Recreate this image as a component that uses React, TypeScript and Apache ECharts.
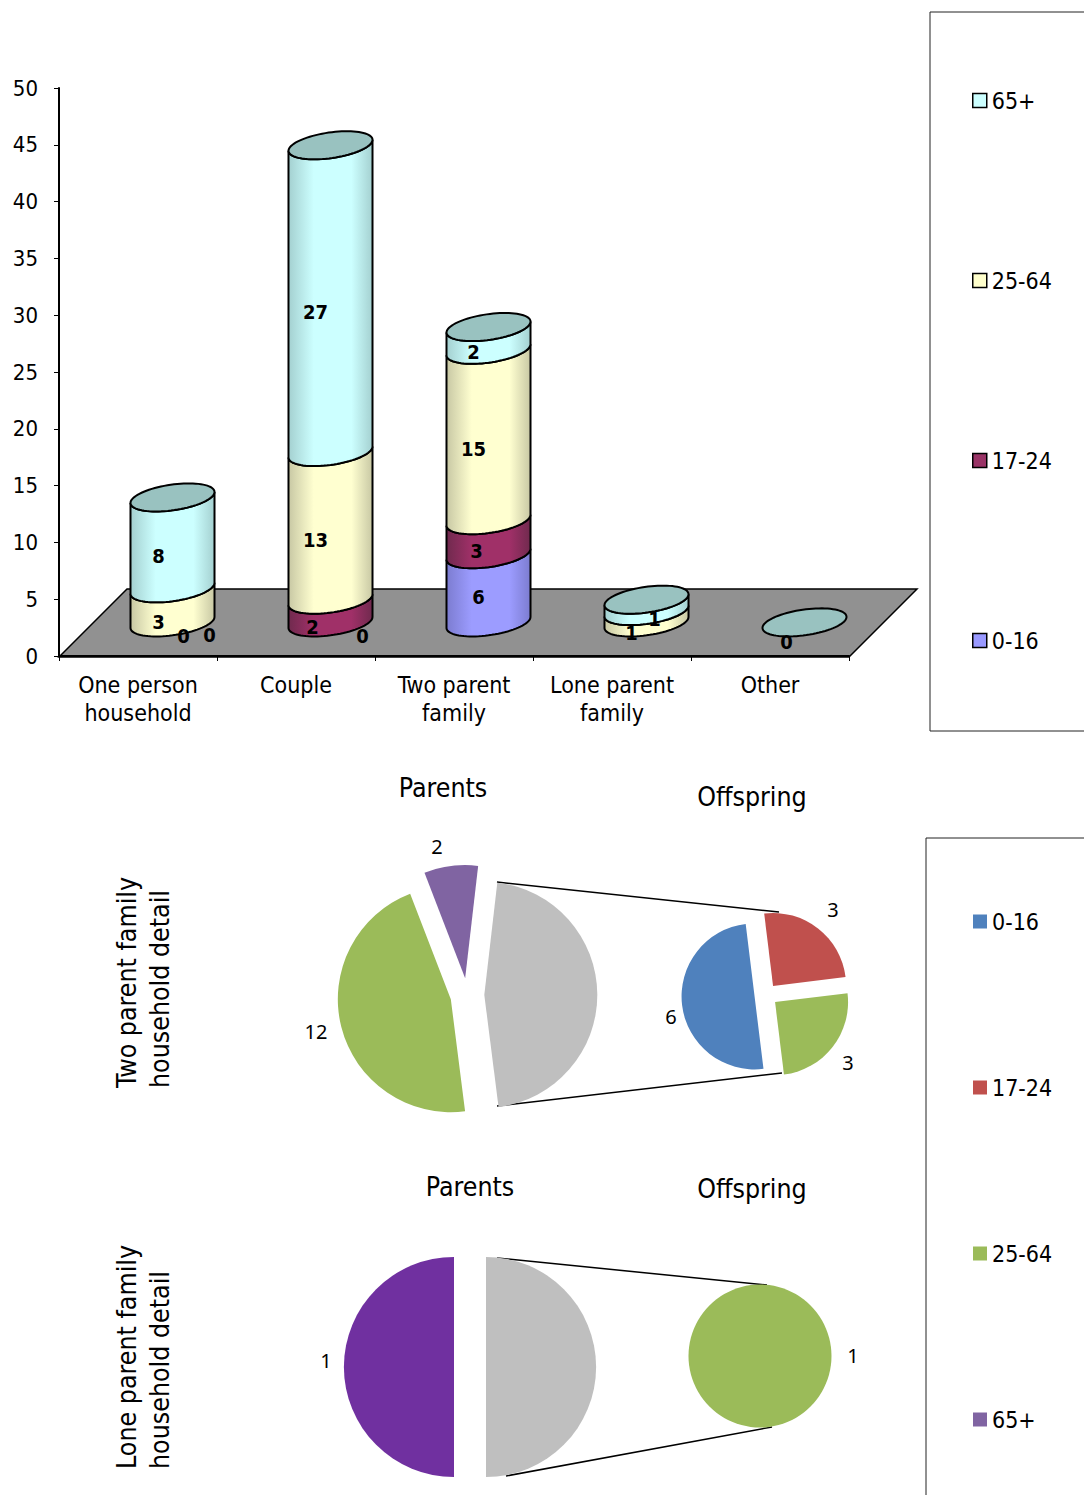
import React, { useEffect, useRef } from "react";
import * as echarts from "echarts";

const categories = ["One person\nhousehold", "Couple", "Two parent\nfamily", "Lone parent\nfamily", "Other"];
const yTicks = { min: 0, max: 50, interval: 5 };

const groups = ["0-16", "17-24", "25-64", "65+"];
const values016 = [0, 0, 6, null, null];
const values1724 = [0, 2, 3, null, null];
const values2564 = [3, 13, 15, 1, null];
const values65 = [8, 27, 2, 1, 0];
const stackValues = [values016, values1724, values2564, values65];

const twoParentParents = [
  { name: "Offspring", value: 12 },
  { name: "25-64", value: 12 },
  { name: "65+", value: 2 },
];
const twoParentOffspring = [
  { name: "0-16", value: 6 },
  { name: "17-24", value: 3 },
  { name: "25-64", value: 3 },
];
const loneParentParents = [
  { name: "Offspring", value: 1 },
  { name: "65+", value: 1 },
];
const loneParentOffspring = [{ name: "25-64", value: 1 }];

// Styles and layout (kept apart from the values)
const FONT = '"DejaVu Sans Condensed", "DejaVu Sans", sans-serif';
const DEPTH_X = 34.5;
const DEPTH_Y = 33.6;
const A = 42.4;
const B = 12.8;
const TILT = (-8.2 * Math.PI) / 180;
const bodyColors = [
  ["#7c7cd0", "#9c9cff"],
  ["#702a4e", "#a03068"],
  ["#c8c8a4", "#ffffd0"],
  ["#a4d0d0", "#ccffff"],
];
const CAP = "#99c2c0";
const labelNudge = [
  [[11, 14], [32, 14], [-10, 9], null, null],
  [[37, 13], [-18, 16], [-12, 14], null, null],
  [[-14, 17], [-15, 14], [-15, 14], [-15, 16], null],
  [[-14, 13.5], [-15, 13.5], [-15, 14], [8, 14], [-18, 20]],
];
const GREY = "#bfbfbf";
const sliceColors = { "0-16": "#4f81bd", "17-24": "#c0504d", "25-64": "#9bbb59", "65+": "#8064a2", Offspring: GREY };
const legendTopColors = { "65+": "#ccffff", "25-64": "#ffffcc", "17-24": "#993366", "0-16": "#9999ff" };

function point(cx: number, cy: number, t: number) {
  return [
    cx + A * Math.cos(t) * Math.cos(TILT) - B * Math.sin(t) * Math.sin(TILT),
    cy + A * Math.cos(t) * Math.sin(TILT) + B * Math.sin(t) * Math.cos(TILT),
  ];
}
const T0 = Math.atan2(-B * Math.sin(TILT), A * Math.cos(TILT));
function lowerArc(cx: number, cy: number) {
  const pts: number[][] = [];
  for (let i = 0; i <= 40; i++) pts.push(point(cx, cy, T0 + (Math.PI * i) / 40));
  return pts;
}
function fullEllipse(cx: number, cy: number) {
  const pts: number[][] = [];
  for (let i = 0; i < 80; i++) pts.push(point(cx, cy, (2 * Math.PI * i) / 80));
  return pts;
}

function segmentRows(idx: number) {
  const rows: number[][] = [];
  stackValues[idx].forEach((v, cat) => {
    if (v === null || v === 0) return;
    let from = 0;
    for (let k = 0; k < idx; k++) from += stackValues[k][cat] ?? 0;
    rows.push([cat, from, from + v]);
  });
  return rows;
}
function totals() {
  return categories.map((_, cat) => {
    let s = 0;
    stackValues.forEach((vals) => (s += vals[cat] ?? 0));
    return [cat, s];
  });
}
function labelRows() {
  const rows: number[][] = [];
  stackValues.forEach((vals, idx) => {
    vals.forEach((v, cat) => {
      if (v === null) return;
      let from = 0;
      for (let k = 0; k < idx; k++) from += stackValues[k][cat] ?? 0;
      rows.push([cat, from + v / 2, v, idx]);
    });
  });
  return rows;
}

function segmentSeries(idx: number) {
  const [edge, mid] = bodyColors[idx];
  const fill = new echarts.graphic.LinearGradient(0, 0, 1, 0, [
    { offset: 0, color: edge },
    { offset: 0.3, color: mid },
    { offset: 0.75, color: mid },
    { offset: 1, color: edge },
  ]);
  return {
    type: "custom",
    name: groups[idx],
    coordinateSystem: "cartesian2d",
    z: 3,
    silent: true,
    encode: { x: 0, y: 2 },
    itemStyle: { color: mid },
    data: segmentRows(idx),
    renderItem: (_p: any, api: any) => {
      const [bx, y0] = api.coord([api.value(0), api.value(1)]);
      const [, y1] = api.coord([api.value(0), api.value(2)]);
      const cx = bx + DEPTH_X;
      const bottom = lowerArc(cx, y0 - DEPTH_Y);
      const top = lowerArc(cx, y1 - DEPTH_Y).reverse();
      return {
        type: "polygon",
        shape: { points: bottom.concat(top) },
        style: { fill, stroke: "#000", lineWidth: 2 },
      };
    },
  };
}

function pie(data: any[], center: number[], radius: number, startAngle: number, offset: number, name: string) {
  return {
    type: "pie",
    name,
    silent: true,
    center,
    radius,
    startAngle,
    clockwise: true,
    avoidLabelOverlap: false,
    selectedMode: offset ? "multiple" : false,
    selectedOffset: offset,
    label: { show: false },
    labelLine: { show: false },
    data: data.map((d) => ({
      ...d,
      selected: !!offset,
      itemStyle: { color: d.color || (sliceColors as any)[d.name] },
    })),
  };
}

function sliceLabel(value: number, x: number, y: number) {
  return {
    type: "text",
    x,
    y,
    style: { text: String(value), font: "20px 'Noto Sans'", fill: "#000", align: "center", verticalAlign: "middle" },
  };
}
function heading(text: string, x: number, y: number) {
  return {
    type: "text",
    x,
    y,
    style: { text, font: `26.5px ${FONT}`, fill: "#000", align: "center", verticalAlign: "middle" },
  };
}
function sideHeading(text: string, x: number, y: number) {
  return {
    type: "text",
    x,
    y,
    rotation: Math.PI / 2,
    style: { text, font: `26.5px ${FONT}`, lineHeight: 33, fill: "#000", align: "left", verticalAlign: "middle" },
  };
}
function connector(x1: number, y1: number, x2: number, y2: number) {
  return { type: "line", shape: { x1, y1, x2, y2 }, style: { stroke: "#000", lineWidth: 1.5 } };
}
function frame(x: number, y: number, width: number, height: number) {
  return { type: "rect", shape: { x, y, width, height }, style: { fill: "none", stroke: "#222", lineWidth: 1 } };
}

export default function App() {
  const ref = useRef<HTMLDivElement>(null);
  useEffect(() => {
    document.body.style.margin = "0";
    const chart = echarts.init(ref.current!, undefined, { renderer: "svg" });
    chart.setOption({
      animation: false,
      backgroundColor: "#fff",
      grid: { left: 59, top: 88, width: 790, height: 568, containLabel: false },
      xAxis: {
        type: "category",
        data: categories,
        z: 2,
        axisLine: { lineStyle: { color: "#000", width: 2 } },
        axisTick: { show: true, length: 5, lineStyle: { color: "#000", width: 1 } },
        axisLabel: { color: "#000", fontFamily: FONT, fontSize: 23, lineHeight: 28, margin: 15, interval: 0 },
      },
      yAxis: {
        type: "value",
        ...yTicks,
        z: 2,
        splitLine: { show: false },
        axisLine: { show: true, lineStyle: { color: "#000", width: 2 } },
        axisTick: { show: true, length: 5, lineStyle: { color: "#000", width: 1 } },
        axisLabel: { color: "#000", fontFamily: FONT, fontSize: 22, margin: 21 },
      },
      legend: [
        {
          orient: "vertical",
          left: 967,
          top: 84,
          itemWidth: 14,
          itemHeight: 14,
          itemGap: 157,
          icon: "rect",
          selectedMode: false,
          textStyle: { color: "#000", fontFamily: FONT, fontSize: 23 },
          data: ["65+", "25-64", "17-24", "0-16"].map((name) => ({
            name,
            itemStyle: { color: (legendTopColors as any)[name], borderColor: "#000", borderWidth: 1.5, decal: "none" },
          })),
        },
        {
          orient: "vertical",
          left: 968,
          top: 905,
          itemWidth: 14,
          itemHeight: 14,
          itemGap: 143,
          icon: "rect",
          selectedMode: false,
          textStyle: { color: "#000", fontFamily: FONT, fontSize: 23 },
          data: groups.map((name) => ({
            name,
            itemStyle: { color: (sliceColors as any)[name], borderWidth: 0 },
          })),
        },
      ],
      graphic: {
        elements: [
          frame(930, 12, 220, 719),
          frame(926, 838, 220, 720),
          heading("Parents", 443, 787),
          heading("Offspring", 752, 796),
          heading("Parents", 470, 1186),
          heading("Offspring", 752, 1188),
          sideHeading("Two parent family\nhousehold detail", 143, 1088),
          sideHeading("Lone parent family\nhousehold detail", 143, 1469),
          connector(497, 882, 779, 912),
          connector(497, 1106, 782, 1073),
          connector(497, 1258, 767, 1285),
          connector(506, 1476, 772, 1427),
          sliceLabel(twoParentParents[1].value, 316, 1031),
          sliceLabel(twoParentParents[2].value, 437, 846),
          sliceLabel(twoParentOffspring[0].value, 671, 1016),
          sliceLabel(twoParentOffspring[1].value, 833, 909),
          sliceLabel(twoParentOffspring[2].value, 848, 1062),
          sliceLabel(loneParentParents[1].value, 326, 1360),
          sliceLabel(loneParentOffspring[0].value, 853, 1355),
        ],
      },
      series: [
        {
          type: "custom",
          name: "floor",
          coordinateSystem: "cartesian2d",
          z: 1,
          silent: true,
          encode: { x: 0, y: 1 },
          data: [[0, 0]],
          renderItem: (p: any) => {
            const { x, y, width, height } = p.coordSys;
            const b = y + height + 1;
            return {
              type: "polygon",
              shape: { points: [[x, b], [x + width, b], [x + width + 68, b - 68], [x + 68, b - 68]] },
              style: { fill: "#919191", stroke: "#000", lineWidth: 1.5 },
            };
          },
        },
        ...groups.map((_, i) => segmentSeries(i)),
        {
          type: "custom",
          name: "cap",
          coordinateSystem: "cartesian2d",
          z: 4,
          silent: true,
          encode: { x: 0, y: 1 },
          data: totals(),
          renderItem: (_p: any, api: any) => {
            const [bx, y] = api.coord([api.value(0), api.value(1)]);
            return {
              type: "polygon",
              shape: { points: fullEllipse(bx + DEPTH_X, y - DEPTH_Y) },
              style: { fill: CAP, stroke: "#000", lineWidth: 2 },
            };
          },
        },
        {
          type: "custom",
          name: "values",
          coordinateSystem: "cartesian2d",
          z: 5,
          silent: true,
          encode: { x: 0, y: 1 },
          data: labelRows(),
          renderItem: (_p: any, api: any) => {
            const cat = api.value(0);
            const [bx, y] = api.coord([cat, api.value(1)]);
            const nudge = labelNudge[api.value(3)][cat] || [0, 0];
            return {
              type: "text",
              x: bx + DEPTH_X + nudge[0],
              y: y - DEPTH_Y + nudge[1],
              style: {
                text: String(api.value(2)),
                font: `bold 20px ${FONT}`,
                fill: "#000",
                align: "center",
                verticalAlign: "middle",
              },
            };
          },
        },
        pie(twoParentParents, [467.3, 995], 113, 83.4, 17, "Two parent parents"),
        pie(twoParentOffspring, [766, 995], 73, 277, 11.5, "Two parent offspring"),
        pie(
          loneParentParents.map((d) => (d.name === "65+" ? { ...d, color: "#7030a0" } : d)),
          [470, 1367],
          110,
          90,
          16,
          "Lone parent parents"
        ),
        pie(loneParentOffspring, [760, 1356], 71.5, 90, 0, "Lone parent offspring"),
      ],
    });
    return () => chart.dispose();
  }, []);
  return <div ref={ref} style={{ position: "absolute", left: 0, top: 0, width: 1084, height: 1495 }} />;
}
